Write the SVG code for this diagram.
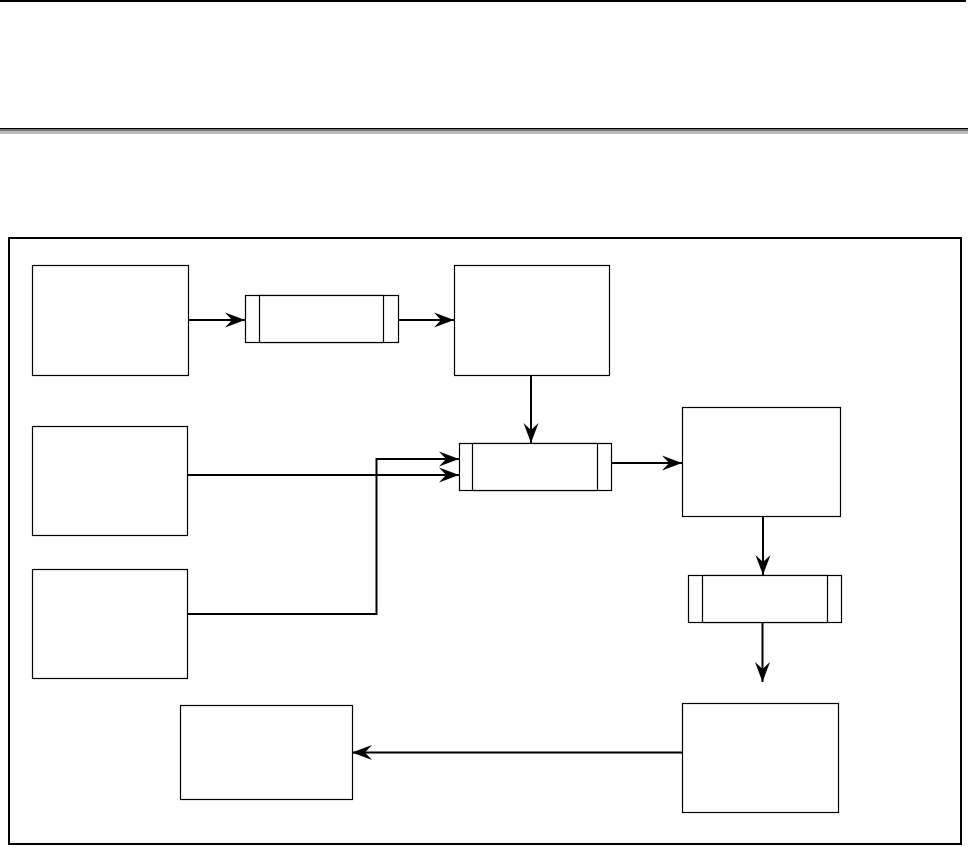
<svg xmlns="http://www.w3.org/2000/svg" width="969" height="847" viewBox="0 0 969 847">
<style>
.box{fill:#fff;stroke:#000;stroke-width:1.2}
.proc{fill:#fff;stroke:#000;stroke-width:1.2}
.conn{fill:none;stroke:#000;stroke-width:2}
</style>
<defs>
<marker id="ah" markerUnits="userSpaceOnUse" markerWidth="24" markerHeight="18" viewBox="-21 -9 24 18" refX="0" refY="0" orient="auto">
<path d="M0,0 L-20,-7.5 L-13,0 L-20,7.5 Z" fill="#000"/>
</marker>
</defs>
<rect width="969" height="847" fill="#fff"/>
<line x1="0" y1="1" x2="966" y2="1" stroke="#000" stroke-width="2"/>
<rect x="0" y="128" width="968" height="1.5" fill="#000"/>
<rect x="0" y="129.5" width="968" height="2" fill="#777"/>
<rect x="0" y="131.5" width="968" height="2.5" fill="#bbb"/>
<rect x="9" y="238" width="952" height="606" fill="none" stroke="#000" stroke-width="2"/>
<g id="nodeA"><rect class="box" x="32.5" y="265.5" width="156" height="110"/></g>
<g id="proc1"><rect class="proc" x="245.5" y="295.5" width="153" height="47" stroke="#777"/><rect class="proc" x="259.5" y="295.5" width="124" height="47"/></g>
<g id="nodeB"><rect class="box" x="454.5" y="265.5" width="155" height="110"/></g>
<g id="nodeC"><rect class="box" x="32.5" y="426.5" width="155" height="109"/></g>
<g id="nodeD"><rect class="box" x="32.5" y="569.5" width="155" height="109"/></g>
<g id="proc2"><rect class="proc" x="459.5" y="443.5" width="152" height="47"/><rect class="proc" x="472.5" y="443.5" width="125" height="47"/></g>
<g id="nodeE"><rect class="box" x="682.5" y="407.5" width="158" height="109"/></g>
<g id="proc3"><rect class="proc" x="688.5" y="575.5" width="153" height="47"/><rect class="proc" x="702.5" y="575.5" width="125" height="47"/></g>
<g id="nodeF"><rect class="box" x="682.5" y="703.5" width="156" height="109"/></g>
<g id="nodeG"><rect class="box" x="180.5" y="705.5" width="172" height="94"/></g>
<g id="connectors">
<line class="conn" x1="189" y1="320" x2="245" y2="320" marker-end="url(#ah)"/>
<line class="conn" x1="399" y1="320" x2="454" y2="320" marker-end="url(#ah)"/>
<line class="conn" x1="531" y1="376" x2="531" y2="443" stroke-width="3" marker-end="url(#ah)"/>
<line class="conn" x1="188" y1="475" x2="459" y2="475" marker-end="url(#ah)"/>
<path class="conn" d="M188,614 L376.5,614 L376.5,459 L459,459" marker-end="url(#ah)"/>
<line class="conn" x1="612" y1="463" x2="682" y2="463" marker-end="url(#ah)"/>
<line class="conn" x1="763" y1="517" x2="763" y2="575" marker-end="url(#ah)"/>
<line class="conn" x1="762.5" y1="623" x2="762.5" y2="682" marker-end="url(#ah)"/>
<line class="conn" x1="682" y1="752.5" x2="352" y2="752.5" marker-end="url(#ah)"/>
</g>
</svg>
